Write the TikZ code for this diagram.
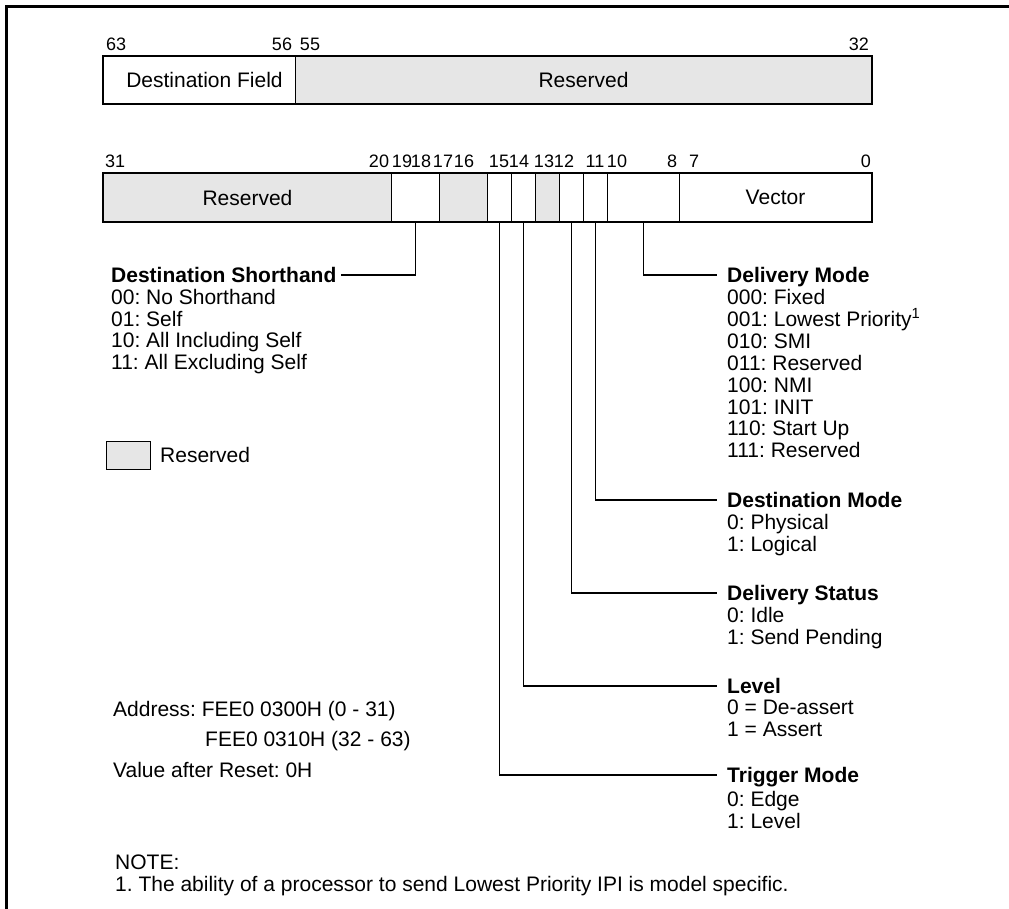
\documentclass[tikz,border=0pt]{standalone}
\usepackage{fontspec}
\setmainfont{Liberation Sans}
\definecolor{resv}{RGB}{230,230,230}
\frenchspacing
\begin{document}
\begin{tikzpicture}[x=1pt,y=-1pt,
  every node/.style={font=\fontsize{21}{21.7}\selectfont},
  field/.style={draw, line width=1pt, inner sep=0pt, anchor=north west},
  rfield/.style={field, fill=resv},
  outline/.style={line width=2pt},
  bitno/.style={inner sep=0pt, anchor=base, font=\fontsize{18}{18}\selectfont},
  head/.style={inner sep=0pt, text height=15pt, text depth=0pt, anchor=west, font=\fontsize{21}{21.7}\selectfont\bfseries},
  item/.style={inner sep=0pt, text height=15pt, text depth=0pt, anchor=west},
  leader/.style={line width=1.3pt}]
\useasboundingbox (0,0) rectangle (1009,909);
% outer frame
\draw[line width=3pt] (6.5,909) -- (6.5,6.5) -- (1009,6.5);

% ---- upper register (63..32)
\node[field, minimum width=192pt, minimum height=47pt] (fdest) at (103,56) {\hspace*{10pt}Destination Field};
\node[rfield, minimum width=576pt, minimum height=47pt] (rtop) at (295,56) {Reserved};
\draw[outline] (fdest.north west) rectangle (rtop.south east);
\node[bitno, anchor=base west] (n63) at (106,51) {63};
\node[bitno] (n56) at (282,51) {56};
\node[bitno] (n55) at (310,51) {55};
\node[bitno, anchor=base east] (n32) at (869,51) {32};

% ---- lower register (31..0)
\node[rfield, minimum width=288pt, minimum height=48pt] (r31) at (103,173) {Reserved};
\node[field, minimum width=48pt, minimum height=48pt] (f1918) at (391,173) {};
\node[rfield, minimum width=48pt, minimum height=48pt] (r1716) at (439,173) {};
\node[field, minimum width=24pt, minimum height=48pt] (f15) at (487,173) {};
\node[field, minimum width=24pt, minimum height=48pt] (f14) at (511,173) {};
\node[rfield, minimum width=24pt, minimum height=48pt] (r13) at (535,173) {};
\node[field, minimum width=24pt, minimum height=48pt] (f12) at (559,173) {};
\node[field, minimum width=24pt, minimum height=48pt] (f11) at (583,173) {};
\node[field, minimum width=72pt, minimum height=48pt] (f108) at (607,173) {};
\node[field, minimum width=192pt, minimum height=48pt] (fvec) at (679,173) {Vector};
\draw[outline] (r31.north west) rectangle (fvec.south east);

\node[bitno, anchor=base west] (n31) at (105,168) {31};
\node[bitno] (n20) at (379,168) {20};
\node[bitno] (n19) at (402,168) {19};
\node[bitno] (n18) at (421,168) {18};
\node[bitno] (n17) at (443,168) {17};
\node[bitno] (n16) at (464,168) {16};
\node[bitno] (n15) at (499,168) {15};
\node[bitno] (n14) at (519,168) {14};
\node[bitno] (n13) at (544,168) {13};
\node[bitno] (n12) at (564,168) {12};
\node[bitno] (n11) at (595,168) {11};
\node[bitno] (n10) at (617,168) {10};
\node[bitno] (n8) at (672,168) {8};
\node[bitno] (n7) at (694,168) {7};
\node[bitno, anchor=base east] (n0) at (871,168) {0};

% ---- Destination Shorthand
\node[head] (hDS) at (111,275) {Destination Shorthand};
\foreach \t [count=\i] in {00: No Shorthand, 01: Self, 10: All Including Self, 11: All Excluding Self}
  \node[item] (ds\i) at (111,{297+21.5*(\i-1)}) {\t};
\draw[leader] (f1918.south) |- ([xshift=4pt]hDS.east);

% ---- Delivery Mode
\node[head] (hDM) at (727,275) {Delivery Mode};
\foreach \t [count=\i] in {000: Fixed, 001: Lowest Priority\textsuperscript{1}, 010: SMI, 011: Reserved, 100: NMI, 101: INIT, 110: Start Up, 111: Reserved}
  \node[item] (dm\i) at (727,{297+21.9*(\i-1)}) {\t};
\draw[leader] (f108.south) |- ([xshift=-10pt]hDM.west);

% ---- Destination Mode
\node[head] (hDestM) at (727,500) {Destination Mode};
\node[item] (dsm1) at (727,522) {0: Physical};
\node[item] (dsm2) at (727,543.5) {1: Logical};
\draw[leader] (f11.south) |- ([xshift=-10pt]hDestM.west);

% ---- Delivery Status
\node[head] (hDSt) at (727,593) {Delivery Status};
\node[item] (dst1) at (727,615) {0: Idle};
\node[item] (dst2) at (727,637) {1: Send Pending};
\draw[leader] (f12.south) |- ([xshift=-10pt]hDSt.west);

% ---- Level
\node[head] (hLv) at (727,686) {Level};
\node[item] (lv1) at (727,707) {0 = De-assert};
\node[item] (lv2) at (727,729) {1 = Assert};
\draw[leader] (f14.south) |- ([xshift=-10pt]hLv.west);

% ---- Trigger Mode
\node[head] (hTM) at (727,775) {Trigger Mode};
\node[item] (tm1) at (727,799) {0: Edge};
\node[item] (tm2) at (727,821) {1: Level};
\draw[leader] (f15.south) |- ([xshift=-10pt]hTM.west);

% ---- legend
\node[draw, line width=1pt, fill=resv, inner sep=0pt, anchor=north west, minimum width=44pt, minimum height=28pt] (leg) at (106,441) {};
\node[item] (legt) at (160,455) {Reserved};

% ---- address
\node[item] (addr1) at (113,709) {Address: FEE0 0300H (0 - 31)};
\node[item] (addr2) at (205,739) {FEE0 0310H (32 - 63)};
\node[item] (reset) at (113,770) {Value after Reset: 0H};

% ---- note
\node[item] (note) at (115,862) {NOTE:};
\node[item] (fn) at (115,884) {1. The ability of a processor to send Lowest Priority IPI is model specific.};
\end{tikzpicture}
\end{document}
